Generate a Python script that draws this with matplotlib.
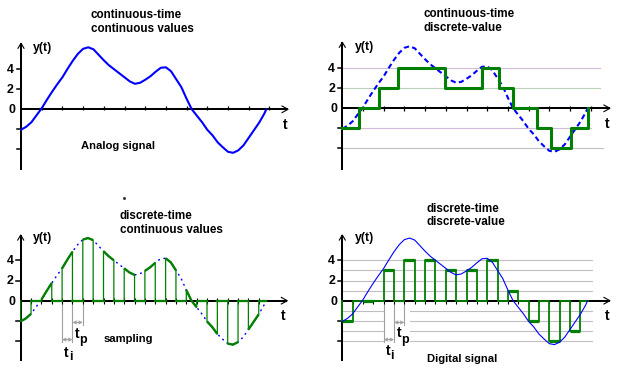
import matplotlib
matplotlib.use('Agg')
import matplotlib.pyplot as plt
from matplotlib.lines import Line2D

# ---------------- data ----------------
curve_t = [0, 0.25, 0.5, 0.75, 1.0, 1.25, 1.5, 1.75, 2.0, 2.25, 2.5, 2.75,
           3.0, 3.25, 3.5, 3.75, 4.0, 4.25, 4.5, 4.75, 5.0, 5.25, 5.5, 5.75,
           6.0, 6.25, 6.5, 6.75, 7.0, 7.25, 7.5, 7.75, 8.0, 8.25, 8.5, 8.75,
           9.0, 9.25, 9.5, 9.75, 10.0, 10.25, 10.5, 10.75, 11.0, 11.25, 11.5,
           11.75, 11.85]
curve_y = [-2.05, -1.75, -1.3, -0.6, 0.1, 0.95, 1.75, 2.5, 3.2, 4.05, 4.85, 5.55,
           6.05, 6.2, 6.0, 5.45, 4.9, 4.4, 4.0, 3.6, 3.2, 2.8, 2.55, 2.65,
           2.95, 3.3, 3.75, 4.15, 4.2, 3.8, 3.0, 2.2, 1.05, 0.0, -0.65, -1.3,
           -2.05, -2.6, -3.3, -3.8, -4.25, -4.35, -4.1, -3.6, -2.85, -2.1, -1.35,
           -0.45, 0.0]

ytick_values = [4, 2, 0]
ytick_labels = ['4', '2', '0']
ytick_marks = [4, 2, -2, -4]

stair_edges = [0, 0.81, 1.77, 2.71, 4.94, 6.77, 7.55, 8.27, 9.4, 10.08, 11.05, 11.87]
stair_levels = [-2, 0, 2, 4, 2, 4, 2, 0, -2, -4, -2]

sample_times = [0, 1, 2, 3, 4, 5, 6, 7, 8, 9, 10, 11]
pulse_width = 0.5
digital_levels = [-2, 0, 3, 4, 4, 3, 3, 4, 1, -2, -4, -3]

tr_grid_levels = [4, 2, -2, -4]
br_grid_levels = [4, 3, 2, 1, -1, -2, -3, -4]

# ---------------- styling ----------------
W, H = 620, 370
FONT = ['Liberation Sans', 'DejaVu Sans']
BLUE = '#0000ff'
GREEN = '#008000'
GRAY = '#a0a0a0'
LW_AX = 1.45

fig = plt.figure(figsize=(6.2, 3.7), dpi=100)
fig.patch.set_facecolor('white')


def ftext(x, y, s, size=8.4, ha='left', va='baseline', weight='bold'):
    fig.text(x / W, 1 - y / H, s, fontsize=size, ha=ha, va=va,
             fontweight=weight, family=FONT, color='black')


def make_panel(ox, oy, left, top, ux, uy, w=310, h=185):
    ax = fig.add_axes([left / W, 1 - (top + h) / H, w / W, h / H])
    ax.set_xlim((left - ox) / ux, (left + w - ox) / ux)
    ax.set_ylim((oy - (top + h)) / uy, (oy - top) / uy)
    ax.axis('off')
    return ax


def draw_axes(ax, ox, oy, ux, uy, ybot, ytop, xtip):
    ax.plot([0, 0], [ybot, ytop], color='k', lw=LW_AX, solid_capstyle='butt', zorder=3)
    ax.plot([0, xtip], [0, 0], color='k', lw=LW_AX, solid_capstyle='butt', zorder=3)
    # open chevron arrow heads
    ax.plot([xtip - 6 / ux, xtip, xtip - 6 / ux], [3.3 / uy, 0, -3.3 / uy],
            color='k', lw=0.8, zorder=3)
    ax.plot([-3 / ux, 0, 3 / ux], [ytop - 5 / uy, ytop, ytop - 5 / uy],
            color='k', lw=0.8, zorder=3)
    for v in ytick_marks:
        ax.plot([-4.5 / ux, 0], [v, v], color='k', lw=1.1, zorder=3)
    for v, lab in zip(ytick_values, ytick_labels):
        dx = 8.8 if lab == '0' else 10.5
        ftext(ox - dx, oy - v * uy + 4.0, lab, size=8.9, ha='center')


def curve_segment(a, b):
    seg = [(t, y) for t, y in zip(curve_t, curve_y) if a - 1e-9 <= t <= b + 1e-9]
    return [p[0] for p in seg], [p[1] for p in seg]


def annot_ti_tp(ax, uy):
    k = sample_times[2]
    t0, t1, t2 = k, k + pulse_width, k + 2 * pulse_width
    ax.plot([t0, t0], [-0.3, -4.1], color=GRAY, lw=0.8, zorder=2)
    ax.plot([t1, t1], [-0.3, -4.1], color=GRAY, lw=0.8, zorder=2)
    ax.plot([t2, t2], [-0.3, -2.45], color=GRAY, lw=0.8, zorder=2)
    for (a, b, y) in [(t0, t1, -3.85), (t1, t2, -2.15)]:
        ax.annotate('', xy=(a, y), xytext=(b, y),
                    arrowprops=dict(arrowstyle='<->', color=GRAY, lw=0.8,
                                    shrinkA=0, shrinkB=0, mutation_scale=5))


# ================= top-left: analog =================
ox, oy, ux, uy = 21, 109.3, 20.7, 10.0
ax = make_panel(ox, oy, 0, 0, ux, uy)
draw_axes(ax, ox, oy, ux, uy, -6.07, 6.6, 12.9)
ax.vlines([1, 2, 3, 4, 5, 6, 7, 8, 9, 10, 11, 12], -1 / uy, 3 / uy,
          color='k', lw=0.9, zorder=3)
ax.plot(curve_t, curve_y, color=BLUE, lw=1.5, zorder=4, solid_capstyle='round')
ftext(90.7, 18.3, 'continuous-time')
ftext(90.7, 31.7, 'continuous values')
ftext(42.5, 48.3, 'y(t)', size=8.9, ha='center', va='center')
ftext(81, 149, 'Analog signal', size=8.1)
ftext(285.5, 125, 't', size=10, ha='center', va='center')

# ================= top-right: continuous-time discrete-value =================
ox, oy, ux, uy = 342.3, 108.3, 20.7, 10.0
ax = make_panel(ox, oy, 310, 0, ux, uy)
grid_ends = [12.45, 12.45, 12.0, 12.6]
grid_cols = ['#d0bcd8', '#b8d0b8', '#d0bcd8', '#c0c0c8']
for lev, e, c in zip(tr_grid_levels, grid_ends, grid_cols):
    ax.plot([0, e], [lev, lev], color=c, lw=0.8, zorder=1)
draw_axes(ax, ox, oy, ux, uy, -6.2, 6.6, 12.93)
ax.vlines([1, 2, 3, 4, 5, 6, 7, 8, 9, 10, 11, 12], -2.5 / uy, 2.5 / uy,
          color='k', lw=0.9, zorder=3)
ax.plot(curve_t, curve_y, color=BLUE, lw=1.5, ls=(0, (2.5, 1.6)), zorder=4)
ax.plot(stair_edges, stair_levels + [0], drawstyle='steps-post', color=GREEN,
        lw=2.2, zorder=5)
ftext(423.3, 16.7, 'continuous-time')
ftext(423.3, 30.7, 'discrete-value')
ftext(364.8, 47, 'y(t)', size=8.9, ha='center', va='center')
ftext(606.7, 124, 't', size=10, ha='center', va='center')

# ================= bottom-left: sampled =================
ox, oy, ux, uy = 20.7, 300.7, 20.7, 10.1
ax = make_panel(ox, oy, 0, 185, ux, uy)
draw_axes(ax, ox, oy, ux, uy, -5.97, 6.5, 12.88)
edges = [e for k in sample_times for e in (k, k + pulse_width) if e > 0]
ax.vlines(edges, -3 / uy, 3 / uy, color='k', lw=0.8, zorder=3)
ax.plot(curve_t, curve_y, color=BLUE, lw=1.1, ls=(0, (0.5, 3.2)),
        dash_capstyle='round', zorder=4)
xs, ys = [], []
for k in sample_times:
    st, sy = curve_segment(k, k + pulse_width)
    xs += [k] + st + [k + pulse_width]
    ys += [0] + sy + [0]
    ax.plot(st, sy, color=GREEN, lw=1.7, zorder=6, solid_capstyle='butt')
    nxt = min(k + 1, curve_t[-1])
    ax.plot([k + pulse_width, nxt], [0, 0], color=GREEN, lw=1.6, zorder=5)
xs.append(curve_t[-1]); ys.append(0)
ax.plot(xs, ys, color=GREEN, lw=0.9, zorder=5)
annot_ti_tp(ax, uy)
ftext(120, 219.3, 'discrete-time')
ftext(120, 233.3, 'continuous values')
ftext(42.5, 238.3, 'y(t)', size=8.9, ha='center', va='center')
ftext(104, 341.7, 'sampling', size=8.1)
ftext(283.3, 316, 't', size=10, ha='center', va='center')
ftext(66.3, 353, 't', size=10, ha='center', va='center')
ftext(70.8, 356.8, 'i', size=9, ha='center', va='center')
ftext(77, 334.2, 't', size=10, ha='center', va='center')
ftext(83, 339.5, 'p', size=9, ha='center', va='center')
fig.add_artist(Line2D([124.3 / W], [1 - 198.3 / H], marker='s', markersize=1.0,
                      color='#333333', transform=fig.transFigure))

# ================= bottom-right: digital =================
ox, oy, ux, uy = 342.3, 300.7, 20.7, 10.1
ax = make_panel(ox, oy, 310, 185, ux, uy)
for lev in br_grid_levels:
    if lev > 0:
        ax.plot([0, 12.05], [lev, lev], color='#c4bcc4', lw=0.8, zorder=1)
    else:
        ax.plot([0, 1.98], [lev, lev], color='#c4bcc4', lw=0.8, zorder=1)
        ax.plot([3.27, 12.05], [lev, lev], color='#c4bcc4', lw=0.8, zorder=1)
draw_axes(ax, ox, oy, ux, uy, -6.0, 6.5, 12.93)
ax.vlines(edges, -3 / uy, 0, color='k', lw=0.8, zorder=3)
xs, ys = [], []
for k, lev in zip(sample_times, digital_levels):
    xs += [k, k, k + pulse_width, k + pulse_width]
    ys += [0, lev, lev, 0]
xs.append(curve_t[-1]); ys.append(0)
ax.plot(xs, ys, color=GREEN, lw=1.3, zorder=5)
ax.hlines(digital_levels, sample_times, [k + pulse_width for k in sample_times],
          color=GREEN, lw=2.3, zorder=5)
ax.plot(curve_t, curve_y, color=BLUE, lw=0.8, zorder=6)
annot_ti_tp(ax, uy)
ftext(426.7, 211.7, 'discrete-time')
ftext(426.7, 225, 'discrete-value')
ftext(364.5, 238.3, 'y(t)', size=8.9, ha='center', va='center')
ftext(427.3, 361.7, 'Digital signal', size=8.1)
ftext(606.7, 315.5, 't', size=10, ha='center', va='center')
ftext(388, 350.8, 't', size=10, ha='center', va='center')
ftext(392.2, 355.8, 'i', size=9, ha='center', va='center')
ftext(398.8, 333.2, 't', size=10, ha='center', va='center')
ftext(404.7, 339.5, 'p', size=9, ha='center', va='center')

fig.savefig('out.png', dpi=100, facecolor='white')
